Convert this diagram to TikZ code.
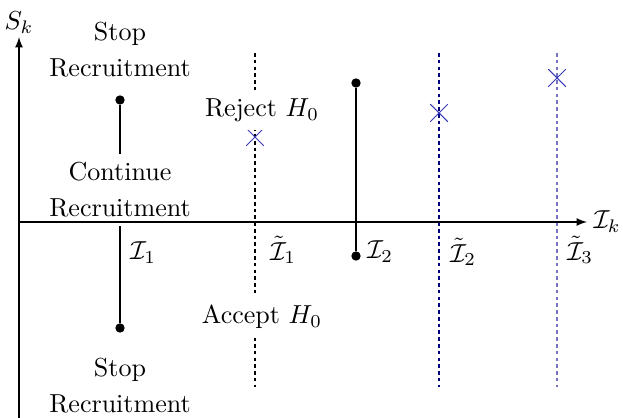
\documentclass[tikz,border=0pt]{standalone}
\usepackage{amsmath}
\usepackage{amssymb}
\usetikzlibrary{arrows,shapes.misc,positioning}
\definecolor{bnddark}{rgb}{0,0,0.5}
\definecolor{bndlight}{rgb}{0.45,0.45,0.75}
\definecolor{crscol}{rgb}{0.22,0.22,0.72}
\tikzset{
  dot/.style={circle, fill, inner sep=0pt, minimum size=3.6pt},
  bnd/.style={dash pattern=on 1.4pt off 1.2pt},
  crs/.style={cross out, draw=crscol, minimum size=6.4pt, inner sep=0pt},
  reg/.style={align=center, font=\fontsize{10}{13.8}\selectfont},
  regw/.style={reg, fill=white},
}

\begin{document}
\begin{tikzpicture}[x=0.0135cm, y=0.0135cm, >=latex]
  \useasboundingbox (-19,-196) rectangle (604,222);
  % axes
  \coordinate (O) at (0,0);
  \coordinate (ytop) at (0,185);
  \coordinate (ybot) at (0,-196);
  \coordinate (xend) at (568,0);
  % continuation intervals
  \node[dot] (d1a) at (101,122) {};
  \node[dot] (d1b) at (101,-106) {};
  \node[dot] (d2a) at (337,139) {};
  \node[dot] (d2b) at (337,-34) {};
  \draw (d1a) -- (d1b);
  \draw (d2a) -- (d2b);
  % boundaries at the final analyses
  \coordinate (t1a) at (236,169);  \coordinate (t1b) at (236,-165);
  \coordinate (t2a) at (420,169);  \coordinate (t2b) at (420,-165);
  \coordinate (t3a) at (538,169);  \coordinate (t3b) at (538,-165);
  \draw[bnd] (t1a) -- (t1b);
  \draw[bnd, bnddark] (t2a) -- (t2b);
  \draw[bnd, bndlight] (t3a) -- (t3b);
  \node[crs] (x1) at (236,85) {};
  \node[crs] (x2) at (420,109) {};
  \node[crs] (x3) at (538,144) {};
  % regions
  \node[reg]  (stopT) at (101,172) {Stop\\Recruitment};
  \node[regw] (cont)  at (101,32)  {Continue\\Recruitment};
  \node[reg]  (stopB) at (101,-164) {Stop\\Recruitment};
  \node[regw] (rej)   at (243,112) {Reject $H_0$};
  \node[regw] (acc)   at (243,-95) {Accept $H_0$};
  % axis labels
  \node (I1)  at (124,-31) {$\mathcal{I}_1$};
  \node (tI1) at (264,-28) {$\tilde{\mathcal{I}}_1$};
  \node (I2)  at (361,-30) {$\mathcal{I}_2$};
  \node (tI2) at (444,-30) {$\tilde{\mathcal{I}}_2$};
  \node (tI3) at (561,-28) {$\tilde{\mathcal{I}}_3$};
  \draw[->] (ybot) -- (ytop) node[above=-2pt] (Sk) {$S_k$};
  \draw[->] (O) -- (xend) node[right=-1pt] (Ik) {$\mathcal{I}_k$};
\end{tikzpicture}
\end{document}
